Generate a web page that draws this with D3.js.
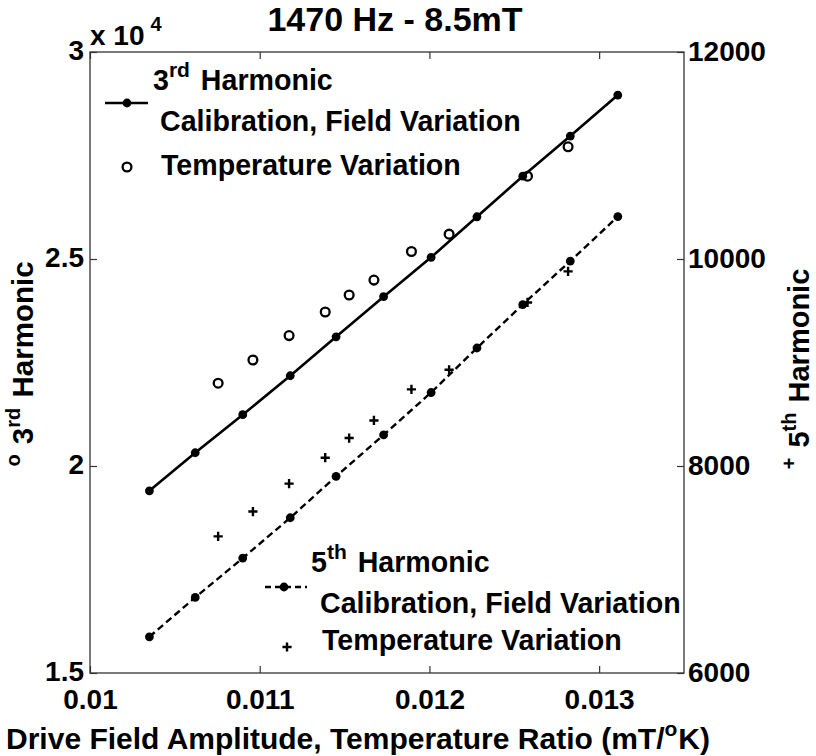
<!DOCTYPE html>
<html>
<head>
<meta charset="utf-8">
<script src="https://cdn.jsdelivr.net/npm/d3@7"></script>
<style>
  html, body { margin: 0; padding: 0; background: #fff; }
  svg { display: block; }
  text { font-family: "Liberation Sans", Arial, Helvetica, sans-serif; font-weight: bold; fill: #000; }
</style>
</head>
<body>
<svg id="chart" width="816" height="756"></svg>
<script>
// ---------------- data ----------------
const xCalibration = [0.01035, 0.01062, 0.0109, 0.01118, 0.01145, 0.01173, 0.01201, 0.01228, 0.01255, 0.01283, 0.01311];
const h3Calibration = [19400, 20320, 21240, 22180, 23120, 24090, 25040, 26020, 27000, 27970, 28960];
const h5Calibration = [6350, 6730, 7110, 7500, 7900, 8300, 8710, 9140, 9560, 9980, 10410];

const xTemperature = [0.010755, 0.01096, 0.011173, 0.011386, 0.011527, 0.011673, 0.011894, 0.012116, 0.012578, 0.012817];
const h3Temperature = [22000, 22560, 23150, 23720, 24130, 24490, 25180, 25600, 27000, 27710];
const h5Temperature = [7320, 7560, 7830, 8080, 8270, 8440, 8740, 8930, 9580, 9880];

const xTicks = [0.01, 0.011, 0.012, 0.013];
const xTickLabels = ["0.01", "0.011", "0.012", "0.013"];
const leftTicks = [15000, 20000, 25000, 30000];
const leftTickLabels = ["1.5", "2", "2.5", "3"];
const rightTicks = [6000, 8000, 10000, 12000];
const rightTickLabels = ["6000", "8000", "10000", "12000"];

// ---------------- layout ----------------
const L = 90, R = 684, T = 52, B = 673;
const svg = d3.select("#chart");

const x = d3.scaleLinear().domain([0.01, 0.0135]).range([L, R]);
const yL = d3.scaleLinear().domain([15000, 30000]).range([B, T]);
const yR = d3.scaleLinear().domain([6000, 12000]).range([B, T]);

const axisColor = "#333";
const fs = 28;
const lfs = 28.6;

// box
svg.append("rect").attr("x", L).attr("y", T).attr("width", R - L).attr("height", B - T)
  .attr("fill", "none").attr("stroke", axisColor).attr("stroke-width", 1.3);

function styleAxis(g) {
  g.select(".domain").remove();
  g.selectAll(".tick line").attr("stroke", axisColor).attr("stroke-width", 1.2);
  g.selectAll(".tick text").style("font-size", fs + "px").style("font-weight", "bold")
    .style("font-family", '"Liberation Sans", Arial, Helvetica, sans-serif').attr("fill", "#000");
}

svg.append("g").attr("transform", `translate(0,${B})`)
  .call(d3.axisBottom(x).tickValues(xTicks).tickFormat((d, i) => xTickLabels[i]).tickSize(-7).tickPadding(16))
  .call(styleAxis);
svg.append("g").attr("transform", `translate(0,${T})`)
  .call(d3.axisTop(x).tickValues(xTicks).tickFormat("").tickSize(-7))
  .call(styleAxis);
svg.append("g").attr("transform", `translate(${L},0)`)
  .call(d3.axisLeft(yL).tickValues(leftTicks).tickFormat((d, i) => leftTickLabels[i]).tickSize(-7).tickPadding(6))
  .call(styleAxis)
  .call(g => g.selectAll(".tick text").attr("dy", "0.26em"));
svg.append("g").attr("transform", `translate(${R},0)`)
  .call(d3.axisRight(yR).tickValues(rightTicks).tickFormat((d, i) => rightTickLabels[i]).tickSize(-7).tickPadding(4))
  .call(styleAxis);

// ---------------- marks ----------------
const cal3 = xCalibration.map((v, i) => [v, h3Calibration[i]]);
const cal5 = xCalibration.map((v, i) => [v, h5Calibration[i]]);
const tmp3 = xTemperature.map((v, i) => [v, h3Temperature[i]]);
const tmp5 = xTemperature.map((v, i) => [v, h5Temperature[i]]);

const line3 = d3.line().x(d => x(d[0])).y(d => yL(d[1]));
const line5 = d3.line().x(d => x(d[0])).y(d => yR(d[1]));

svg.append("path").datum(cal3).attr("d", line3).attr("fill", "none")
  .attr("stroke", "#000").attr("stroke-width", 2.6);
svg.append("path").datum(cal5).attr("d", line5).attr("fill", "none")
  .attr("stroke", "#000").attr("stroke-width", 2.4).attr("stroke-dasharray", "7,4");

svg.append("g").selectAll("circle").data(cal3).join("circle")
  .attr("cx", d => x(d[0])).attr("cy", d => yL(d[1])).attr("r", 4.4).attr("fill", "#000");
svg.append("g").selectAll("circle").data(cal5).join("circle")
  .attr("cx", d => x(d[0])).attr("cy", d => yR(d[1])).attr("r", 4.4).attr("fill", "#000");

svg.append("g").selectAll("circle").data(tmp3).join("circle")
  .attr("cx", d => x(d[0])).attr("cy", d => yL(d[1])).attr("r", 4.4)
  .attr("fill", "none").attr("stroke", "#000").attr("stroke-width", 2.3);

const plusPath = "M-4.6,0H4.6M0,-4.6V4.6";
svg.append("g").selectAll("path").data(tmp5).join("path")
  .attr("transform", d => `translate(${x(d[0])},${yR(d[1])})`)
  .attr("d", plusPath).attr("stroke", "#000").attr("stroke-width", 2.4).attr("fill", "none");

// ---------------- texts ----------------
function supText(sel, parts, base, supSize, rise, gap) {
  let prevSup = false;
  parts.forEach(([t, sup]) => {
    const ts = sel.append("tspan").text(t);
    if (sup && !prevSup) ts.attr("dy", -rise).style("font-size", supSize + "px");
    else if (sup) ts.style("font-size", supSize + "px");
    else if (!sup && prevSup) ts.attr("dy", rise).attr("dx", gap || 0).style("font-size", base + "px");
    prevSup = sup;
  });
}

// title
svg.append("text").attr("x", 395).attr("y", 31).attr("text-anchor", "middle")
  .style("font-size", "34px").text("1470 Hz - 8.5mT");

// exponent
const ex = svg.append("text").attr("x", 90).attr("y", 45).style("font-size", "28px");
ex.append("tspan").text("x 10");
ex.append("tspan").attr("dx", 6).attr("dy", -14).style("font-size", "20px").text("4");

// x label
const xl = svg.append("text").attr("x", 358).attr("y", 749).attr("text-anchor", "middle")
  .style("font-size", "30px");
supText(xl, [["Drive Field Amplitude, Temperature Ratio (mT/", false], ["o", true], ["K)", false]], 30, 21, 13, 1);

// left y label
const yl = svg.append("text").attr("transform", "translate(33,364) rotate(-90)")
  .attr("text-anchor", "middle").style("font-size", "29.5px");
supText(yl, [["o", true], [" ", false], ["3", false], ["rd", true], [" Harmonic", false]], 29.5, 20, 13, 2);

// right y label
const yr = svg.append("text").attr("transform", "translate(809,369) rotate(-90)")
  .attr("text-anchor", "middle").style("font-size", "29px");
supText(yr, [["+", true], [" ", false], ["5", false], ["th", true], [" Harmonic", false]], 29, 20, 13, 2);

// ---------------- legends ----------------
// top legend (3rd harmonic)
const lg1 = svg.append("g");
lg1.append("line").attr("x1", 105).attr("x2", 148).attr("y1", 103).attr("y2", 103)
  .attr("stroke", "#000").attr("stroke-width", 2.6);
lg1.append("circle").attr("cx", 127).attr("cy", 103).attr("r", 4.4).attr("fill", "#000");
const t1 = lg1.append("text").attr("x", 153).attr("y", 90).style("font-size", lfs + "px");
supText(t1, [["3", false], ["rd", true], [" Harmonic", false]], lfs, 21, 13, 3);
lg1.append("text").attr("x", 160).attr("y", 131).style("font-size", lfs + "px").text("Calibration, Field Variation");
lg1.append("circle").attr("cx", 127).attr("cy", 167).attr("r", 4.4)
  .attr("fill", "none").attr("stroke", "#000").attr("stroke-width", 2.3);
lg1.append("text").attr("x", 161).attr("y", 175).style("font-size", lfs + "px").text("Temperature Variation");

// bottom legend (5th harmonic)
const lg2 = svg.append("g");
lg2.append("line").attr("x1", 265).attr("x2", 307).attr("y1", 587).attr("y2", 587)
  .attr("stroke", "#000").attr("stroke-width", 2.4).attr("stroke-dasharray", "6,4");
lg2.append("circle").attr("cx", 284).attr("cy", 587).attr("r", 4.4).attr("fill", "#000");
const t2 = lg2.append("text").attr("x", 311).attr("y", 572).style("font-size", lfs + "px");
supText(t2, [["5", false], ["th", true], [" Harmonic", false]], lfs, 21, 13, 3);
lg2.append("text").attr("x", 320).attr("y", 613).style("font-size", lfs + "px").text("Calibration, Field Variation");
lg2.append("path").attr("transform", "translate(287,647)").attr("d", plusPath)
  .attr("stroke", "#000").attr("stroke-width", 2.4).attr("fill", "none");
lg2.append("text").attr("x", 322).attr("y", 650).style("font-size", lfs + "px").text("Temperature Variation");
</script>
</body>
</html>
